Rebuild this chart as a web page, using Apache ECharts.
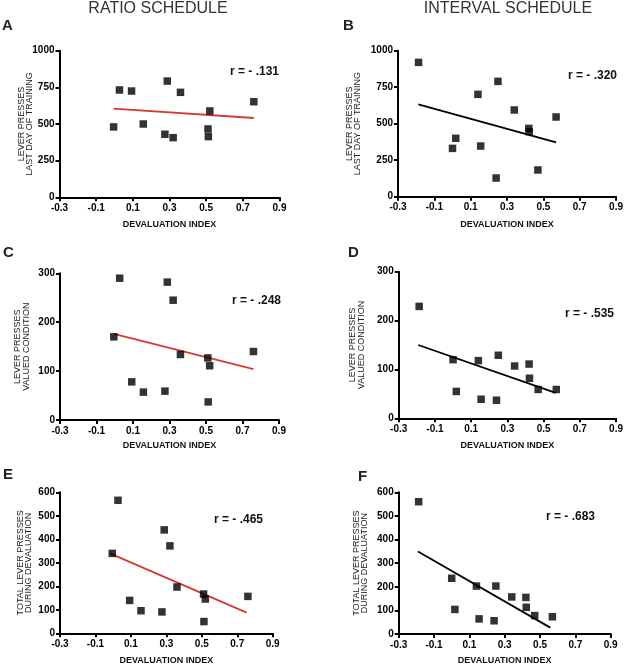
<!DOCTYPE html>
<html><head><meta charset="utf-8">
<script src="https://cdn.jsdelivr.net/npm/echarts@6/dist/echarts.min.js"></script>
<style>html,body{margin:0;padding:0;background:#fff}#c{width:626px;height:668px}</style>
</head><body><div id="c"></div>
<script>
// ---- data ----
const xTicks = ['-0.3','-0.1','0.1','0.3','0.5','0.7','0.9'];
const ratioX = [-0.005, 0.027, 0.093, 0.157, 0.275, 0.288, 0.32, 0.36, 0.51, 0.52, 0.512, 0.76];
const ratioTraining = [480, 732, 725, 500, 430, 793, 407, 716, 466, 589, 414, 652];
const ratioValued = [170, 290, 78, 57, 59, 282, 245, 134, 127, 111, 37, 140];
const ratioDevalued = [340, 566, 140, 96, 91, 440, 372, 197, 167, 146, 50, 157];
const intervalX = [-0.187, 0.0, 0.018, 0.14, 0.155, 0.24, 0.25, 0.34, 0.42, 0.422, 0.47, 0.57];
const intervalTraining = [920, 331, 400, 701, 347, 128, 790, 594, 468, 445, 183, 546];
const intervalValued = [229, 120, 55, 118, 39, 37, 129, 107, 111, 82, 59, 59];
const intervalDevalued = [560, 236, 104, 203, 64, 56, 203, 157, 155, 113, 78, 73];
const fitA = [[-0.005, 605], [0.76, 541]];
const fitB = [[-0.188, 632], [0.57, 372]];
const fitC = [[-0.005, 176], [0.76, 104]];
const fitD = [[-0.192, 150], [0.567, 52]];
const fitE = [[-0.018, 340], [0.753, 88]];
const fitF = [[-0.191, 349], [0.558, 27]];
const rLabels = ['r = - .131', 'r = - .320', 'r = - .248', 'r = - .535', 'r = - .465', 'r = - .683'];
const panelLetters = ['A', 'B', 'C', 'D', 'E', 'F'];
const yNames = ['LEVER PRESSES\nLAST DAY OF TRAINING', 'LEVER PRESSES\nLAST DAY OF TRAINING',
  'LEVER PRESSES\nVALUED CONDITION', 'LEVER PRESSES\nVALUED CONDITION',
  'TOTAL LEVER PRESSES\nDURING DEVALUATION', 'TOTAL LEVER PRESSES\nDURING DEVALUATION'];
const xName = 'DEVALUATION INDEX';
const yRanges = [[0, 1000, 250], [0, 1000, 250], [0, 300, 100], [0, 300, 100], [0, 600, 100], [0, 600, 100]];

// ---- layout ----
const FONT = 'Liberation Sans, Arial, sans-serif';
const grids = [
  {left: 59.5, top: 50.7, width: 220, height: 146.6},
  {left: 398, top: 50.7, width: 218.3, height: 146},
  {left: 60, top: 273.3, width: 219, height: 146.7},
  {left: 398.7, top: 271.7, width: 218.3, height: 146.6},
  {left: 60, top: 492.3, width: 212.7, height: 141},
  {left: 398.7, top: 492.3, width: 212, height: 141.7}
];
const yNameGaps = [25.5, 36, 29.5, 33, 27, 29.5];
const xNameGaps = [23.2, 23.5, 21.5, 23.2, 23, 22.5];
const rPos = [[230, 72], [568, 76], [232, 301], [565, 314], [214, 520], [546, 517]];
const letterPos = [[2, 26], [343, 26], [3, 253], [348, 253], [3, 475], [358, 477]];
const lineColors = ['#d43a32', '#000', '#d43a32', '#000', '#d43a32', '#000'];
const scatterData = [
  [ratioX, ratioTraining], [intervalX, intervalTraining],
  [ratioX, ratioValued], [intervalX, intervalValued],
  [ratioX, ratioDevalued], [intervalX, intervalDevalued]
];
const fits = [fitA, fitB, fitC, fitD, fitE, fitF];

const axisLine = {lineStyle: {color: '#000', width: 2}};
const axisTick = {show: true, length: 4, inside: false, lineStyle: {color: '#000', width: 2}};

const xAxes = [], yAxes = [], series = [], graphic = [];
for (let i = 0; i < 6; i++) {
  xAxes.push({
    gridIndex: i, type: 'value', min: -0.3, max: 0.9, interval: 0.2,
    axisLine: Object.assign({onZero: false}, axisLine), axisTick,
    splitLine: {show: false},
    axisLabel: {color: '#000', fontSize: 10, fontWeight: 'bold', fontFamily: FONT, margin: 6,
      formatter: v => { const idx = Math.round((v + 0.3) / 0.2); return xTicks[idx] || ''; }},
    name: xName, nameLocation: 'middle', nameGap: xNameGaps[i], nameMoveOverlap: false,
    nameTextStyle: {color: '#111', fontSize: 9, fontWeight: 'bold', fontFamily: FONT}
  });
  yAxes.push({
    gridIndex: i, type: 'value', min: yRanges[i][0], max: yRanges[i][1], interval: yRanges[i][2],
    axisLine: Object.assign({onZero: false}, axisLine), axisTick,
    splitLine: {show: false},
    axisLabel: {color: '#000', fontSize: 10, fontWeight: 'bold', fontFamily: FONT, margin: 5,
      formatter: v => String(Math.round(v))},
    name: yNames[i], nameLocation: 'middle', nameGap: yNameGaps[i], nameRotate: 90, nameMoveOverlap: false,
    nameTextStyle: {color: '#222', fontSize: 9, fontFamily: FONT, lineHeight: 8.5}
  });
  const [xs, ys] = scatterData[i];
  series.push({
    type: 'scatter', xAxisIndex: i, yAxisIndex: i, symbol: 'rect', symbolSize: 7.5,
    itemStyle: {color: '#000'}, data: xs.map((x, k) => [x, ys[k]]), z: 3
  });
  series.push({
    type: 'line', xAxisIndex: i, yAxisIndex: i, showSymbol: false, symbol: 'none',
    lineStyle: {color: lineColors[i], width: 1.8}, data: fits[i], z: 2
  });
  graphic.push({type: 'text', x: rPos[i][0], y: rPos[i][1],
    style: {text: rLabels[i], fill: '#111', font: 'bold 12px ' + FONT, align: 'left', verticalAlign: 'middle'}});
  graphic.push({type: 'text', x: letterPos[i][0], y: letterPos[i][1],
    style: {text: panelLetters[i], fill: '#222', font: 'bold 15px ' + FONT, align: 'left', verticalAlign: 'middle'}});
}
graphic.push({type: 'text', x: 158, y: 8.5, style: {text: 'RATIO SCHEDULE', fill: '#333',
  font: '16px ' + FONT, align: 'center', verticalAlign: 'middle'}});
graphic.push({type: 'text', x: 508, y: 8.5, style: {text: 'INTERVAL SCHEDULE', fill: '#333',
  font: '16px ' + FONT, align: 'center', verticalAlign: 'middle'}});

const chart = echarts.init(document.getElementById('c'), null, {renderer: 'canvas'});
chart.setOption({
  animation: false, backgroundColor: '#fff',
  grid: grids, xAxis: xAxes, yAxis: yAxes, series, graphic
});
</script></body></html>
